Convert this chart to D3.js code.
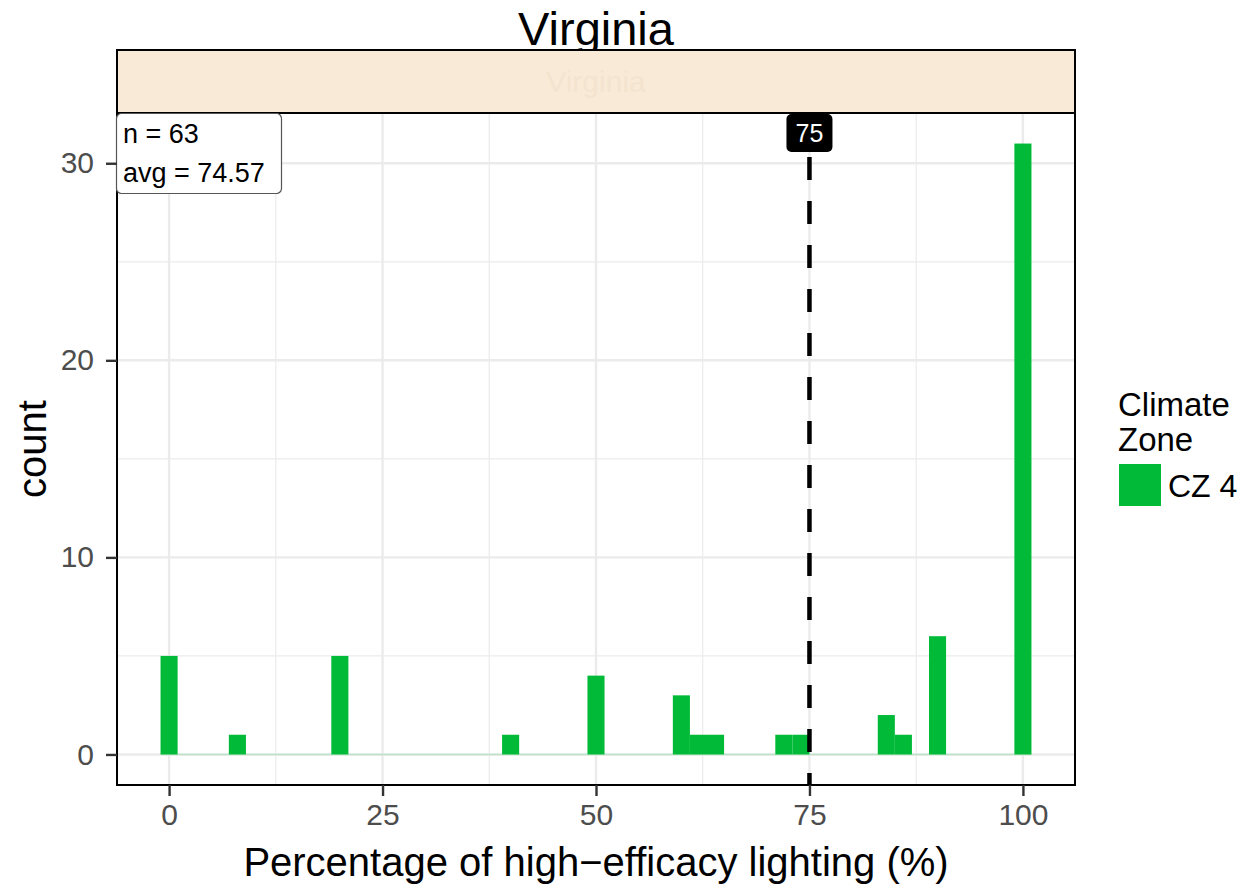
<!DOCTYPE html>
<meta charset="utf-8">
<style>
  body { margin: 0; background: #fff; }
  text { font-family: "Liberation Sans", Arial, sans-serif; }
</style>
<body>
<script src="https://d3js.org/d3.v7.min.js"></script>
<script>
  // histogram bins (bin centre, width 2) and counts
  var binCenters = [0, 8, 20, 40, 50, 60, 62, 64, 72, 74, 84, 86, 90, 100];
  var binCounts  = [5, 1, 5, 1, 4, 3, 1, 1, 1, 1, 2, 1, 6, 31];
  var binWidth = 2;
  var xTicks = [0, 25, 50, 75, 100];
  var xMinor = [12.5, 37.5, 62.5, 87.5];
  var yTicks = [0, 10, 20, 30];
  var yMinor = [5, 15, 25];
  var refValue = 75;
  var infoLines = ["n = 63", "avg = 74.57"];
  var legendLabels = ["CZ 4"];
  var green = "#00BA38";

  var W = 1248, H = 890;
  var panel = { left: 117, right: 1075, top: 113, bottom: 785 };

  var svg = d3.select("body").append("svg")
    .attr("width", W)
    .attr("height", H);

  var x = d3.scaleLinear().domain([-6.1, 106.1]).range([panel.left, panel.right]);
  var y = d3.scaleLinear().domain([-1.55, 32.55]).range([panel.bottom, panel.top]);

  // title
  svg.append("text")
    .attr("x", 596)
    .attr("y", 45)
    .attr("text-anchor", "middle")
    .style("font-size", "47px")
    .text("Virginia");

  // strip
  svg.append("rect")
    .attr("x", panel.left).attr("y", 50)
    .attr("width", panel.right - panel.left).attr("height", panel.top - 50)
    .attr("fill", "#f9ead7").attr("stroke", "#000").attr("stroke-width", 2);
  svg.append("text")
    .attr("x", 596).attr("y", 92)
    .attr("text-anchor", "middle")
    .attr("fill", "#f4e3ce")
    .style("font-size", "30px")
    .text("Virginia");

  var g = svg.append("g");

  // grid
  g.selectAll(".xminor").data(xMinor).enter().append("line")
    .attr("x1", d => x(d)).attr("x2", d => x(d))
    .attr("y1", panel.top).attr("y2", panel.bottom)
    .attr("stroke", "#ebebeb").attr("stroke-width", 1.2);
  g.selectAll(".yminor").data(yMinor).enter().append("line")
    .attr("y1", d => y(d)).attr("y2", d => y(d))
    .attr("x1", panel.left).attr("x2", panel.right)
    .attr("stroke", "#ebebeb").attr("stroke-width", 1.2);
  g.selectAll(".xmajor").data(xTicks).enter().append("line")
    .attr("x1", d => x(d)).attr("x2", d => x(d))
    .attr("y1", panel.top).attr("y2", panel.bottom)
    .attr("stroke", "#ebebeb").attr("stroke-width", 2.4);
  g.selectAll(".ymajor").data(yTicks).enter().append("line")
    .attr("y1", d => y(d)).attr("y2", d => y(d))
    .attr("x1", panel.left).attr("x2", panel.right)
    .attr("stroke", "#ebebeb").attr("stroke-width", 2.4);

  // zero-height bins outline
  g.append("line")
    .attr("x1", x(-1)).attr("x2", x(101))
    .attr("y1", y(0)).attr("y2", y(0))
    .attr("stroke", green).attr("stroke-opacity", 0.2).attr("stroke-width", 1.5);

  // bars
  g.selectAll(".bar")
    .data(binCenters.map((c, i) => ({ c: c, n: binCounts[i] })))
    .enter().append("rect")
    .attr("class", "bar")
    .attr("x", d => x(d.c - binWidth / 2))
    .attr("width", d => x(d.c + binWidth / 2) - x(d.c - binWidth / 2))
    .attr("y", d => y(d.n))
    .attr("height", d => y(0) - y(d.n))
    .attr("fill", green);

  // reference line
  g.append("line")
    .attr("x1", x(refValue)).attr("x2", x(refValue))
    .attr("y1", panel.top).attr("y2", panel.bottom)
    .attr("stroke", "#000").attr("stroke-width", 4.5)
    .attr("stroke-dasharray", "23,21");

  // panel border
  svg.append("rect")
    .attr("x", panel.left).attr("y", panel.top)
    .attr("width", panel.right - panel.left).attr("height", panel.bottom - panel.top)
    .attr("fill", "none").attr("stroke", "#000").attr("stroke-width", 2);

  // ref label
  var lab = svg.append("g").attr("transform", "translate(" + x(refValue) + ",133)");
  lab.append("rect")
    .attr("x", -23).attr("y", -19).attr("width", 46).attr("height", 38)
    .attr("rx", 5).attr("fill", "#000");
  lab.append("text")
    .attr("text-anchor", "middle").attr("dy", "0.36em")
    .attr("fill", "#fff").style("font-size", "25px")
    .text(refValue);

  // info box
  svg.append("rect")
    .attr("x", 116.5).attr("y", 113.5).attr("width", 165).attr("height", 80)
    .attr("rx", 5).attr("fill", "#fff").attr("stroke", "#555").attr("stroke-width", 1.2);
  svg.selectAll(".info").data(infoLines).enter().append("text")
    .attr("x", 123).attr("y", (d, i) => 143 + i * 39)
    .style("font-size", "27px")
    .text(d => d);

  // axes
  var xAxis = svg.append("g")
    .attr("transform", "translate(0," + panel.bottom + ")")
    .call(d3.axisBottom(x).tickValues(xTicks).tickSize(11).tickPadding(8));
  var yAxis = svg.append("g")
    .attr("transform", "translate(" + panel.left + ",0)")
    .call(d3.axisLeft(y).tickValues(yTicks).tickSize(11).tickPadding(12));
  [xAxis, yAxis].forEach(function (a) {
    a.select(".domain").remove();
    a.selectAll(".tick line").attr("stroke", "#333").attr("stroke-width", 2.4);
    a.selectAll(".tick text").attr("fill", "#4d4d4d")
      .style("font-size", "30px").style("font-family", "Liberation Sans, Arial, sans-serif");
  });

  // axis titles
  svg.append("text")
    .attr("x", 596).attr("y", 876)
    .attr("text-anchor", "middle").style("font-size", "40px")
    .text("Percentage of high\u2212efficacy lighting (%)");
  svg.append("text")
    .attr("transform", "translate(46," + ((panel.top + panel.bottom) / 2) + ") rotate(-90)")
    .attr("text-anchor", "middle").style("font-size", "40px")
    .text("count");

  // legend
  svg.append("text").attr("x", 1118).attr("y", 416).style("font-size", "33px").text("Climate");
  svg.append("text").attr("x", 1118).attr("y", 451).style("font-size", "33px").text("Zone");
  var leg = svg.selectAll(".leg").data(legendLabels).enter().append("g")
    .attr("transform", (d, i) => "translate(1119," + (464 + i * 43) + ")");
  leg.append("rect").attr("width", 42).attr("height", 42).attr("fill", green);
  leg.append("text").attr("x", 49).attr("y", 21).attr("dy", "0.36em")
    .style("font-size", "32px").text(d => d);
</script>
</body>
